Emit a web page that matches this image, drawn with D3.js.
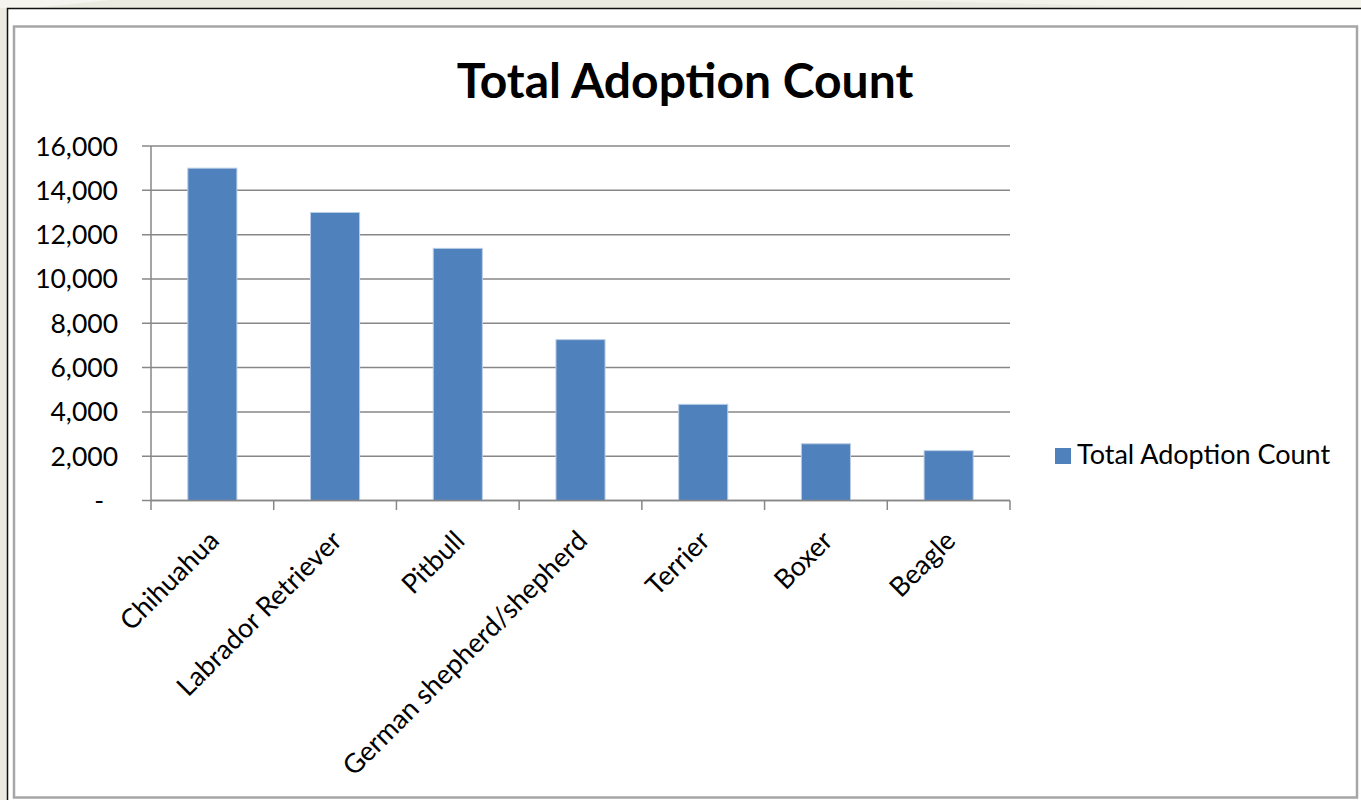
<!DOCTYPE html>
<html>
<head>
<meta charset="utf-8">
<script src="https://cdn.jsdelivr.net/npm/d3@7"></script>
<style>
  html, body { margin: 0; padding: 0; background: #ecebe2; }
  svg { display: block; }
  text { font-family: Lato, 'Open Sans', sans-serif; fill: #000; }
</style>
</head>
<body>
<div id="chart"></div>
<script>
// values
const breeds = ['Chihuahua', 'Labrador Retriever', 'Pitbull', 'German shepherd/shepherd', 'Terrier', 'Boxer', 'Beagle'];
const counts = [15000, 13000, 11380, 7260, 4340, 2560, 2250];
const yTicks = [0, 2000, 4000, 6000, 8000, 10000, 12000, 14000, 16000];
const seriesName = 'Total Adoption Count';

const width = 1361, height = 800;
const svg = d3.select('#chart').append('svg')
    .attr('width', width)
    .attr('height', height);

// page background bits
svg.append('rect').attr('width', width).attr('height', height).attr('fill', '#ecebe2');
svg.append('path').attr('d', 'M0,0 L110,0 L35,8 L0,8 Z').attr('fill', '#f5f4ee');
svg.append('path').attr('d', 'M880,0 L1361,0 L1361,8 L1200,8 Z').attr('fill', '#f3f2eb');

// white sheet with dark top/left edge
svg.append('rect').attr('x', 7).attr('y', 8).attr('width', width - 7).attr('height', height - 8).attr('fill', '#fff');
svg.append('path').attr('d', 'M7.5,800 L7.5,8.5 L1361,8.5').attr('fill', 'none').attr('stroke', '#111').attr('stroke-width', 1.5);

// chart frame
svg.append('rect')
    .attr('x', 14).attr('y', 26.5).attr('width', 1343).attr('height', 771)
    .attr('fill', '#fff').attr('stroke', '#a6a6a6').attr('stroke-width', 2.5);

const x = d3.scaleBand()
    .domain(breeds)
    .range([151, 1010])
    .paddingInner(0.6)
    .paddingOuter(0.3);

const y = d3.scaleLinear()
    .domain([0, 16000])
    .range([500.5, 146]);

const fmt = d3.format(',');

// gridlines + y ticks
const grid = svg.append('g');
grid.selectAll('line')
    .data(yTicks)
    .enter().append('line')
    .attr('x1', 142).attr('x2', 1010)
    .attr('y1', d => y(d)).attr('y2', d => y(d))
    .attr('stroke', '#878787').attr('stroke-width', 1.5);

svg.append('g').selectAll('text')
    .data(yTicks)
    .enter().append('text')
    .attr('x', d => d === 0 ? 104 : 118)
    .attr('y', d => y(d))
    .attr('dy', '0.36em')
    .attr('text-anchor', 'end')
    .style('font-size', '26.5px')
    .text(d => d === 0 ? '-' : fmt(d));

// bars
svg.append('g').selectAll('rect')
    .data(counts)
    .enter().append('rect')
    .attr('x', (d, i) => x(breeds[i]))
    .attr('y', d => y(d))
    .attr('width', x.bandwidth())
    .attr('height', d => y(0) - y(d))
    .attr('fill', '#4f81bd')
    .attr('stroke', '#b9cde5')
    .attr('stroke-width', 1);

// axes lines
svg.append('line')
    .attr('x1', 151).attr('x2', 151).attr('y1', 146).attr('y2', 501)
    .attr('stroke', '#878787').attr('stroke-width', 1.5);
svg.append('line')
    .attr('x1', 151).attr('x2', 1010).attr('y1', y(0)).attr('y2', y(0))
    .attr('stroke', '#878787').attr('stroke-width', 1.5);

// category boundary ticks
const half = (x.step() - x.bandwidth()) / 2;
const bounds = breeds.map(b => x(b) - half).concat([x(breeds[breeds.length - 1]) + x.bandwidth() + half]);
svg.append('g').selectAll('line')
    .data(bounds)
    .enter().append('line')
    .attr('x1', d => d).attr('x2', d => d)
    .attr('y1', y(0)).attr('y2', 510)
    .attr('stroke', '#878787').attr('stroke-width', 1.5);

// rotated category labels
svg.append('g').selectAll('text')
    .data(breeds)
    .enter().append('text')
    .attr('transform', d => `translate(${x(d) + x.bandwidth() / 2 - 5},${529}) rotate(-45)`)
    .attr('text-anchor', 'end')
    .attr('dy', '0.7em')
    .style('font-size', '27px')
    .text(d => d);

// title
svg.append('text')
    .attr('x', 685).attr('y', 98)
    .attr('text-anchor', 'middle')
    .style('font-size', '48px')
    .style('font-weight', 'bold')
    .text(seriesName);

// legend
svg.append('rect')
    .attr('x', 1055).attr('y', 448).attr('width', 16).attr('height', 16)
    .attr('fill', '#4f81bd');
svg.append('text')
    .attr('x', 1077).attr('y', 464)
    .style('font-size', '27px')
    .text(seriesName);
</script>
</body>
</html>
